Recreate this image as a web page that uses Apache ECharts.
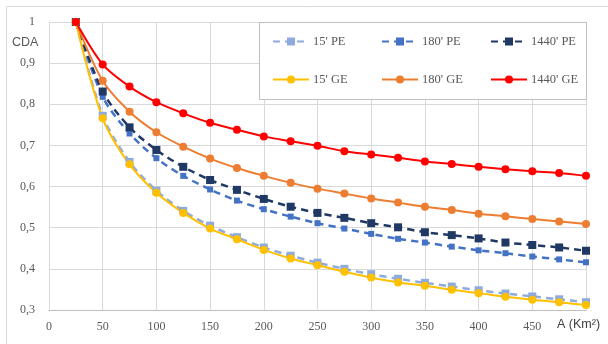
<!DOCTYPE html>
<html>
<head>
<meta charset="utf-8">
<script src="https://cdn.jsdelivr.net/npm/echarts@6/dist/echarts.min.js"></script>
<style>
  html, body { margin: 0; padding: 0; background: #fff; }
  #chart { width: 608px; height: 344px; }
</style>
</head>
<body>
<div id="chart"></div>
<script>
// area (Km2)
const areas = [25, 50, 75, 100, 125, 150, 175, 200, 225, 250, 275, 300, 325, 350, 375, 400, 425, 450, 475, 500]
const xTicks = [0, 50, 100, 150, 200, 250, 300, 350, 400, 450]

// CDA values
const pe15 = [1, 0.772, 0.660, 0.590, 0.541, 0.505, 0.477, 0.452, 0.432, 0.415, 0.400, 0.387, 0.376, 0.366, 0.357, 0.348, 0.340, 0.333, 0.326, 0.319]
const pe180 = [1, 0.818, 0.729, 0.669, 0.626, 0.593, 0.566, 0.545, 0.527, 0.511, 0.498, 0.485, 0.473, 0.464, 0.454, 0.445, 0.438, 0.430, 0.423, 0.416]
const pe1440 = [1, 0.831, 0.744, 0.689, 0.648, 0.616, 0.592, 0.570, 0.551, 0.536, 0.524, 0.511, 0.501, 0.489, 0.482, 0.474, 0.464, 0.458, 0.452, 0.444]
const ge15 = [1, 0.766, 0.654, 0.585, 0.536, 0.498, 0.472, 0.446, 0.425, 0.409, 0.393, 0.379, 0.367, 0.359, 0.349, 0.341, 0.332, 0.325, 0.319, 0.312]
const ge180 = [1, 0.857, 0.782, 0.732, 0.697, 0.668, 0.645, 0.626, 0.609, 0.595, 0.583, 0.571, 0.561, 0.551, 0.543, 0.534, 0.528, 0.521, 0.515, 0.509]
const ge1440 = [1, 0.897, 0.843, 0.805, 0.778, 0.755, 0.738, 0.722, 0.710, 0.699, 0.686, 0.678, 0.670, 0.661, 0.655, 0.648, 0.642, 0.637, 0.633, 0.626]

const serif = 'Liberation Serif'
const sans = 'Liberation Sans'

function pairs(values) {
  return areas.map((a, i) => [a, values[i]])
}

function peSerie(name, values, color, size) {
  return {
    name: name,
    type: 'line',
    smooth: 0.3,
    symbol: 'rect',
    symbolSize: size,
    showAllSymbol: true,
    itemStyle: { color: color },
    lineStyle: { color: color, width: 2.5, type: [7, 5] },
    data: pairs(values)
  }
}

function geSerie(name, values, color) {
  return {
    name: name,
    type: 'line',
    smooth: 0.3,
    symbol: 'circle',
    symbolSize: 8,
    showAllSymbol: true,
    itemStyle: { color: color },
    lineStyle: { color: color, width: 2 },
    data: pairs(values)
  }
}

function legendCol(left, names) {
  return {
    orient: 'vertical',
    left: left,
    top: 35,
    z: 20,
    itemWidth: 36,
    itemHeight: 10,
    itemGap: 25,
    padding: 0,
    textStyle: { fontFamily: serif, fontSize: 12.5, color: '#595959', padding: [0, 0, 0, -1] },
    data: names
  }
}

const chart = echarts.init(document.getElementById('chart'))
chart.setOption({
  animation: false,
  backgroundColor: '#fff',
  grid: { left: 49, right: 22, top: 22, bottom: 34 },
  graphic: [
    {
      type: 'rect',
      z: -10,
      shape: { x: 6.5, y: 6.5, width: 620, height: 360 },
      style: { fill: null, stroke: '#d9d9d9', lineWidth: 1 }
    },
    {
      type: 'rect',
      z: 3,
      shape: { x: 259.5, y: 22.5, width: 327, height: 77 },
      style: { fill: '#fff', stroke: '#bfbfbf', lineWidth: 1 }
    },
    {
      type: 'text',
      left: 12,
      top: 36,
      style: { text: 'CDA', fontFamily: sans, fontSize: 12.5, fill: '#595959' }
    },
    {
      type: 'text',
      left: 557,
      top: 318,
      style: { text: 'A (Km²)', fontFamily: sans, fontSize: 12.5, fill: '#404040' }
    }
  ],
  legend: [
    legendCol(272, ["15' PE", "15' GE"]),
    legendCol(381, ["180' PE", "180' GE"]),
    legendCol(490, ["1440' PE", "1440' GE"])
  ],
  xAxis: {
    type: 'value',
    min: 0,
    max: 500,
    interval: 50,
    axisLine: { show: true, lineStyle: { color: '#bfbfbf' } },
    axisTick: { show: false },
    splitLine: { show: true, lineStyle: { color: '#d9d9d9' } },
    axisLabel: {
      fontFamily: serif,
      fontSize: 12,
      color: '#595959',
      margin: 11,
      formatter: v => (xTicks.indexOf(v) >= 0 ? String(v) : '')
    }
  },
  yAxis: {
    type: 'value',
    min: 0.3,
    max: 1,
    interval: 0.1,
    axisLine: { show: true, lineStyle: { color: '#d9d9d9' } },
    axisTick: { show: false },
    splitLine: { show: true, lineStyle: { color: '#d9d9d9' } },
    axisLabel: {
      fontFamily: serif,
      fontSize: 12,
      color: '#595959',
      margin: 14,
      formatter: v => (Math.abs(v - 1) < 1e-6 ? '1' : v.toFixed(1).replace('.', ','))
    }
  },
  series: [
    peSerie("15' PE", pe15, '#8faadc', 8),
    peSerie("180' PE", pe180, '#4472c4', 6),
    peSerie("1440' PE", pe1440, '#203864', 8),
    geSerie("15' GE", ge15, '#ffc000'),
    geSerie("180' GE", ge180, '#ed7d31'),
    geSerie("1440' GE", ge1440, '#ff0000')
  ]
})
</script>
</body>
</html>
